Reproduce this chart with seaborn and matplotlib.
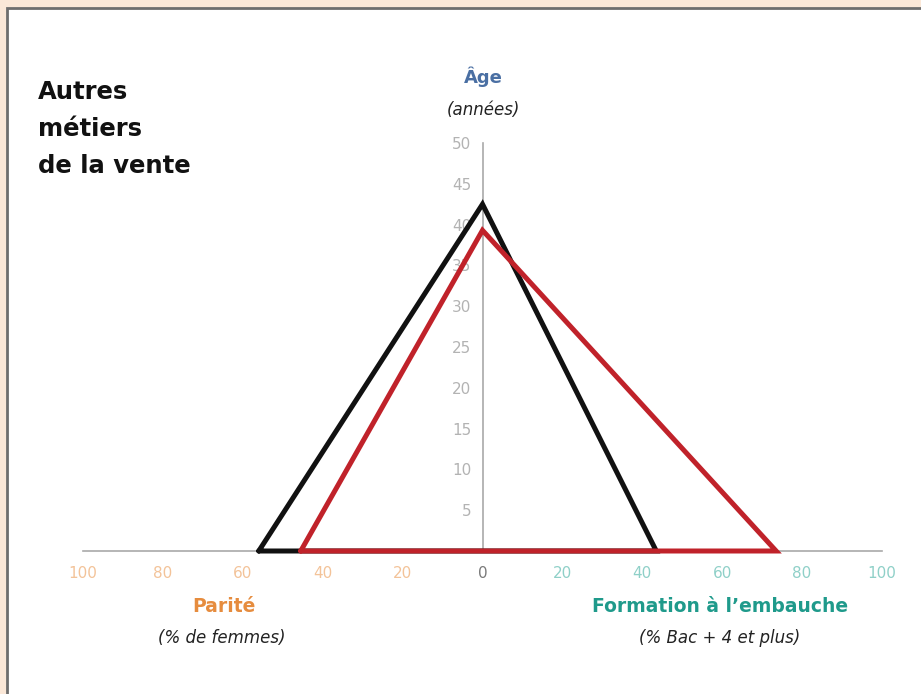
import numpy as np
import pandas as pd
import seaborn as sns
import matplotlib.pyplot as plt
from matplotlib.patches import Rectangle

# values
series = ["ensemble", "autres métiers de la vente"]
parite = [56, 45.5]        # % de femmes (left axis)
age = [42.5, 39.3]         # années (vertical axis)
formation = [43.5, 73.5]   # % Bac + 4 et plus (right axis)
colors = ["#111111", "#c0222a"]

x_ticks = [-100, -80, -60, -40, -20, 0, 20, 40, 60, 80, 100]
y_ticks = [5, 10, 15, 20, 25, 30, 35, 40, 45, 50]

rows = []
for s, p, a, f in zip(series, parite, age, formation):
    pts = [(-p, 0), (0, a), (f, 0), (-p, 0)]
    for i, (x, y) in enumerate(pts):
        rows.append({"serie": s, "ordre": i, "x": x, "y": y})
df = pd.DataFrame(rows)

sns.set_theme(style="white")
plt.rcParams["font.family"] = ["DejaVu Sans"]

fig = plt.figure(figsize=(9.21, 6.94), dpi=100)
fig.patch.set_facecolor("#fbe8d8")
fig.patches.append(Rectangle((7 / 921, -0.01), 1.0, 1 - 8 / 694 + 0.01,
                             transform=fig.transFigure, facecolor="white",
                             edgecolor="#6e6e6e", linewidth=2, zorder=-5))

ax = fig.add_axes([83 / 921, 143 / 694, 799 / 921, 408 / 694])
ax.set_zorder(2)
ax.set_facecolor("none")

sns.lineplot(data=df, x="x", y="y", hue="serie", units="serie", estimator=None,
             sort=False, palette=colors, linewidth=3.6, legend=False, ax=ax,
             zorder=5)
for line in ax.lines:
    line.set_solid_joinstyle("miter")
    line.set_clip_on(False)

ax.set_xlim(-100, 100)
ax.set_ylim(0, 50)
for side in ["top", "right"]:
    ax.spines[side].set_visible(False)
ax.spines["left"].set_position(("data", 0))
ax.spines["bottom"].set_position(("data", 0))
for side in ["left", "bottom"]:
    ax.spines[side].set_color("#a9a9a9")
    ax.spines[side].set_linewidth(1.2)

ax.set_xticks(x_ticks)
ax.set_xticklabels([str(abs(v)) for v in x_ticks])
ax.set_yticks(y_ticks)
ax.set_yticklabels([str(v) for v in y_ticks])
ax.tick_params(axis="x", direction="in", length=5, color="#a9a9a9",
               labelsize=11, pad=11)
ax.tick_params(axis="y", direction="out", length=4, color="#a9a9a9",
               labelsize=11, labelcolor="#b3b3b3", pad=4)
for v, lab in zip(x_ticks, ax.get_xticklabels()):
    if v < 0:
        lab.set_color("#f3c399")
    elif v > 0:
        lab.set_color("#8fd0c8")
    else:
        lab.set_color("#7a7a7a")
ax.set_xlabel("")
ax.set_ylabel("")

fig.text(38 / 921, 1 - 80 / 694, "Autres\nmétiers\nde la vente", ha="left",
         va="top", fontsize=17.5, fontweight="bold", color="#111111",
         linespacing=1.68)
fig.text(483 / 921, 1 - 77 / 694, "Âge", ha="center", va="center",
         fontsize=13, fontweight="bold", color="#4a6fa3")
fig.text(483 / 921, 1 - 110 / 694, "(années)", ha="center", va="center",
         fontsize=12, style="italic", color="#222222")
fig.text(224 / 921, 1 - 606 / 694, "Parité", ha="center", va="center",
         fontsize=13.5, fontweight="bold", color="#e68c3e")
fig.text(222 / 921, 1 - 638 / 694, "(% de femmes)", ha="center", va="center",
         fontsize=12, style="italic", color="#222222")
fig.text(720 / 921, 1 - 606 / 694, "Formation à l’embauche", ha="center",
         va="center", fontsize=13.5, fontweight="bold", color="#1f9a8b")
fig.text(720 / 921, 1 - 638 / 694, "(% Bac + 4 et plus)", ha="center",
         va="center", fontsize=12, style="italic", color="#222222")

fig.savefig("out.png", dpi=100, facecolor=fig.get_facecolor())
